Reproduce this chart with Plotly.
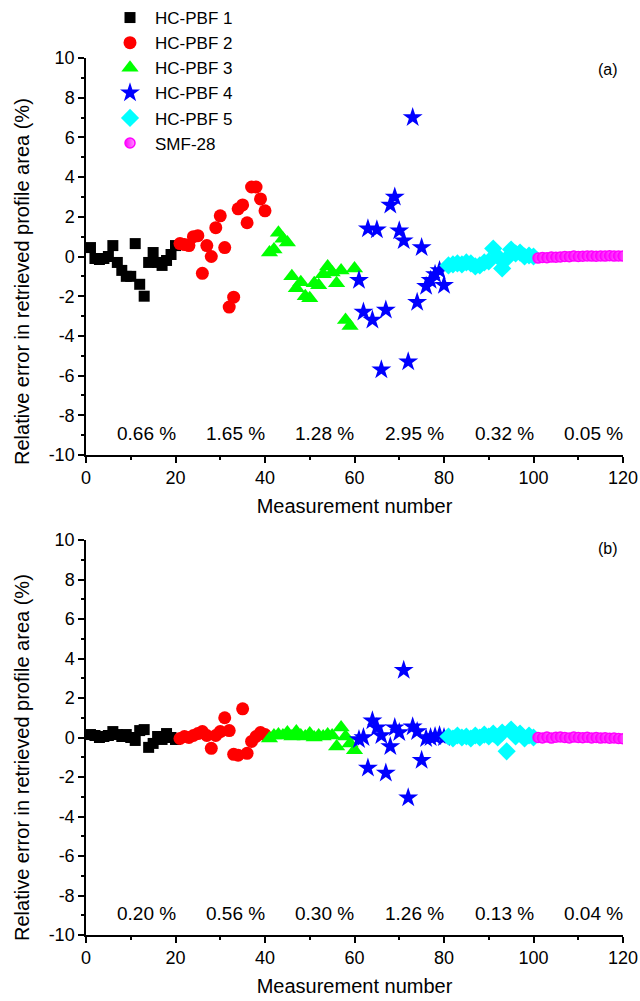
import plotly.graph_objects as go
from plotly.subplots import make_subplots

# Series names and styles
NAMES = ["HC-PBF 1", "HC-PBF 2", "HC-PBF 3", "HC-PBF 4", "HC-PBF 5", "SMF-28"]
COLORS = ["#000000", "#FF0000", "#00FF00", "#0000FF", "#00FFFF", "#FF00FF"]
SYMBOLS = ["square", "circle", "triangle-up", "star", "diamond", "circle"]
SIZES = [11, 13, 15, 15, 14, 10]

# measurement numbers for each fibre
X1 = list(range(1, 21))
X2 = list(range(21, 41))
X3 = list(range(41, 61))
X4 = list(range(61, 81))
X5 = list(range(81, 101))
X6 = list(range(101, 121))

# panel (a) relative error (%)
A1 = [0.45, -0.1, -0.15, -0.1, 0.0, 0.55, -0.3, -0.7, -1.0, -1.0,
      0.65, -1.4, -2.0, -0.3, 0.2, -0.3, -0.45, -0.2, 0.1, 0.55]
A2 = [0.65, 0.6, 0.55, 1.0, 1.05, -0.85, 0.55, 0.0, 1.45, 2.05,
      0.45, -2.55, -2.05, 2.4, 2.6, 1.7, 3.5, 3.5, 2.9, 2.3]
A3 = [0.2, 0.35, 1.2, 0.9, 0.7, -1.0, -1.6, -1.3, -2.0, -2.1,
      -1.35, -1.45, -0.9, -0.5, -0.8, -1.35, -0.7, -3.2, -3.5, -0.6]
A4 = [-1.2, -2.8, 1.4, -3.2, 1.35, -5.7, -2.7, 2.6, 3.0, 1.3,
      0.8, -5.3, 7.0, -2.3, 0.45, -1.5, -1.2, -0.9, -0.7, -1.45]
A5 = [-0.45, -0.4, -0.35, -0.4, -0.3, -0.35, -0.5, -0.45, -0.3, -0.25,
      0.4, 0.0, -0.6, -0.1, 0.35, 0.15, 0.2, 0.0, 0.05, 0.0]
A6 = [-0.08, -0.05, -0.06, -0.03, -0.04, -0.02, 0.0, -0.01, 0.02, 0.0,
      0.01, 0.03, 0.02, 0.01, 0.03, 0.02, 0.04, 0.02, 0.03, 0.02]

# panel (b) relative error (%)
B1 = [0.15, 0.1, 0.0, 0.05, 0.1, 0.3, 0.15, 0.05, 0.15, 0.0,
      -0.15, 0.35, 0.4, -0.5, -0.3, 0.05, -0.1, 0.2, 0.0, -0.1]
B2 = [-0.05, 0.05, 0.0, 0.1, 0.2, 0.3, 0.1, -0.55, 0.1, 0.3,
      1.0, 0.35, -0.85, -0.9, 1.45, -0.8, -0.2, 0.05, 0.25, 0.15]
B3 = [-0.05, 0.1, 0.15, 0.1, 0.25, 0.05, 0.3, 0.1, 0.05, 0.2,
      0.0, 0.1, 0.05, 0.15, 0.1, -0.45, 0.5, 0.05, -0.3, -0.65]
B4 = [-0.1, 0.0, -1.55, 0.85, 0.5, 0.1, -1.8, -0.45, 0.5, 0.25,
      3.4, -3.05, 0.55, 0.3, -1.15, -0.05, 0.0, 0.05, 0.1, 0.0]
B5 = [0.05, -0.05, 0.1, 0.0, 0.05, -0.05, 0.1, 0.0, 0.15, 0.05,
      0.2, 0.0, 0.25, -0.7, 0.4, 0.05, 0.2, -0.05, 0.1, 0.0]
B6 = [0.0, -0.02, 0.02, -0.03, 0.01, 0.03, 0.0, -0.02, 0.02, 0.0,
      -0.01, 0.01, -0.02, 0.0, -0.03, -0.01, -0.04, -0.02, -0.05, -0.06]

# rms error labels per fibre
LABEL_X = [13.5, 33.4, 53.3, 73.5, 93.6, 113.4]
LABELS_A = ["0.66 %", "1.65 %", "1.28 %", "2.95 %", "0.32 %", "0.05 %"]
LABELS_B = ["0.20 %", "0.56 %", "0.30 %", "1.26 %", "0.13 %", "0.04 %"]

Y_TICKS = [-10, -8, -6, -4, -2, 0, 2, 4, 6, 8, 10]
Y_TICKTEXT = ["-10", "-8", "-6", "-4", "-2", "0", "2", "4", "6", "8", "10"]

FONT = "Liberation Sans, Arial, sans-serif"

X_ALL = [X1, X2, X3, X4, X5, X6]
A_ALL = [A1, A2, A3, A4, A5, A6]
B_ALL = [B1, B2, B3, B4, B5, B6]

W, H = 640, 1001
L, R = 86, 17
PW = W - L - R


def py(px):
    # screen pixel row -> paper fraction
    return 1 - px / H


def px_(x):
    # screen pixel column -> paper fraction
    return (x - L) / PW


fig = make_subplots(rows=2, cols=1, vertical_spacing=0.08)


def marker_for(i):
    m = dict(symbol=SYMBOLS[i], size=SIZES[i], color=COLORS[i], line=dict(width=0))
    if NAMES[i] == "SMF-28":
        m["line"] = dict(width=1.5, color=COLORS[i])
        m["gradient"] = dict(type="horizontal", color="#FF99FF")
    return m


for row, ys in ((1, A_ALL), (2, B_ALL)):
    for i in range(6):
        fig.add_trace(go.Scatter(
            x=X_ALL[i], y=ys[i],
            mode="markers",
            name=NAMES[i],
            marker=marker_for(i),
            showlegend=(row == 1),
        ), row=row, col=1)

for row, labels in ((1, LABELS_A), (2, LABELS_B)):
    for x, t in zip(LABEL_X, labels):
        fig.add_annotation(x=x, y=-8.9, text=t, showarrow=False,
                           font=dict(size=19, color="black", family=FONT),
                           row=row, col=1)

axis_common = dict(
    showline=True, linecolor="black", linewidth=1.5,
    ticks="outside", ticklen=6, tickwidth=1.5, tickcolor="black",
    showgrid=False, zeroline=False,
    tickfont=dict(size=18, color="black", family=FONT),
    title_font=dict(size=20, color="black", family=FONT),
)

for row in (1, 2):
    fig.update_xaxes(
        range=[0, 120], tickvals=[0, 20, 40, 60, 80, 100, 120],
        minor=dict(dtick=10, ticks="outside", ticklen=3, tickwidth=1.5, tickcolor="black"),
        title_text="Measurement number", title_standoff=12,
        **axis_common, row=row, col=1)
    fig.update_yaxes(
        range=[-10, 10], tickvals=Y_TICKS, ticktext=Y_TICKTEXT,
        minor=dict(dtick=1, ticks="outside", ticklen=3, tickwidth=1.5, tickcolor="black"),
        **axis_common, row=row, col=1)

fig.update_layout(
    xaxis=dict(domain=[0, 1]),
    yaxis=dict(domain=[py(455), py(58)]),
    xaxis2=dict(domain=[0, 1]),
    yaxis2=dict(domain=[py(935), py(540)]),
)

# y axis titles (placed a little below the axis centre, as in the original)
for yc in (282, 758):
    fig.add_annotation(xref="paper", yref="paper", x=px_(22), y=py(yc),
                       text="Relative error in retrieved profile area (%)",
                       textangle=-90, showarrow=False, xanchor="center", yanchor="middle",
                       font=dict(size=20, color="black", family=FONT))

for lab, yc in (("(a)", 70), ("(b)", 548)):
    fig.add_annotation(xref="paper", yref="paper", x=px_(608), y=py(yc),
                       text=lab, showarrow=False, xanchor="center", yanchor="middle",
                       font=dict(size=16, color="black", family=FONT))

fig.update_layout(
    width=W, height=H,
    margin=dict(l=L, r=R, t=0, b=0, autoexpand=False),
    plot_bgcolor="white", paper_bgcolor="white",
    font=dict(family=FONT, color="black"),
    legend=dict(
        x=px_(105), y=1.0, xanchor="left", yanchor="top",
        font=dict(size=17, color="black", family=FONT),
        bgcolor="rgba(0,0,0,0)", tracegroupgap=0, itemwidth=40,
    ),
)

# drop the default 8px page margin so the figure fills the window exactly
fig.write_html("out.html",
               config={"displayModeBar": False},
               post_script="document.body.style.margin='0';"
                           "document.documentElement.style.overflow='hidden';")
